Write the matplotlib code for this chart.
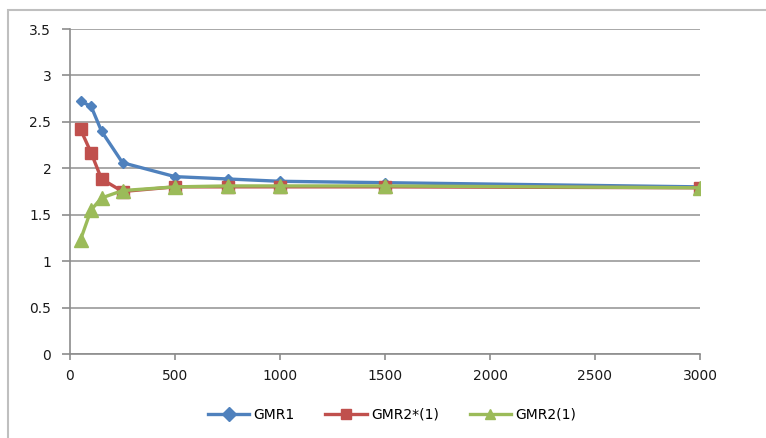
import matplotlib
matplotlib.use("Agg")
import matplotlib.pyplot as plt
from matplotlib.patches import Rectangle

# Sample sizes and the three estimator series
n_values = [50, 100, 150, 250, 500, 750, 1000, 1500, 3000]
gmr1 = [2.72, 2.67, 2.40, 2.06, 1.91, 1.885, 1.86, 1.845, 1.80]
gmr2_star = [2.42, 2.17, 1.885, 1.75, 1.80, 1.80, 1.80, 1.80, 1.79]
gmr2 = [1.23, 1.55, 1.68, 1.76, 1.80, 1.81, 1.81, 1.81, 1.79]

x_ticks = [0, 500, 1000, 1500, 2000, 2500, 3000]
y_ticks = [0, 0.5, 1, 1.5, 2, 2.5, 3, 3.5]
y_tick_labels = ["0", "0.5", "1", "1.5", "2", "2.5", "3", "3.5"]

W, H = 766, 438
fig = plt.figure(figsize=(W / 100, H / 100), dpi=100)
fig.patch.set_facecolor("white")

# Chart-area border
fig.add_artist(Rectangle((8 / W, -0.1), 1.2, 1 - 10 / H + 0.1,
                         transform=fig.transFigure, fill=False,
                         edgecolor="#BFBFBF", linewidth=1.5))

left, right = 70 / W, 700 / W
bottom, top = 1 - 354 / H, 1 - 29 / H
ax = fig.add_axes([left, bottom, right - left, top - bottom])

ax.plot(n_values, gmr1, color="#4F81BD", lw=2.4, marker="D", ms=5.5,
        label="GMR1", zorder=3)
ax.plot(n_values, gmr2_star, color="#C0504D", lw=2.4, marker="s", ms=9,
        label="GMR2*(1)", zorder=3)
ax.plot(n_values, gmr2, color="#9BBB59", lw=2.4, marker="^", ms=10,
        label="GMR2(1)", zorder=4)

ax.set_xlim(0, 3000)
ax.set_ylim(0, 3.5)
ax.set_xticks(x_ticks)
ax.set_yticks(y_ticks)
ax.set_yticklabels(y_tick_labels)

ax.grid(axis="y", color="#999999", lw=1.2)
ax.set_axisbelow(True)
for s in ("top", "right"):
    ax.spines[s].set_visible(False)
for s in ("left", "bottom"):
    ax.spines[s].set_color("#8C8C8C")
    ax.spines[s].set_linewidth(1.2)

ax.tick_params(axis="y", length=6, width=1.2, color="#8C8C8C",
               labelsize=10, pad=7.5, labelcolor="#1a1a1a")
ax.tick_params(axis="x", length=4, width=1.2, color="#8C8C8C",
               labelsize=10, pad=7, labelcolor="#1a1a1a")

leg = fig.legend(loc="center", bbox_to_anchor=(392 / W, 1 - 415 / H),
                 ncol=3, frameon=False, fontsize=10, handlelength=3,
                 columnspacing=2.2, handletextpad=0.3)
for h in leg.legend_handles:
    h.set_markersize(7)

fig.savefig("out.png", dpi=100)
